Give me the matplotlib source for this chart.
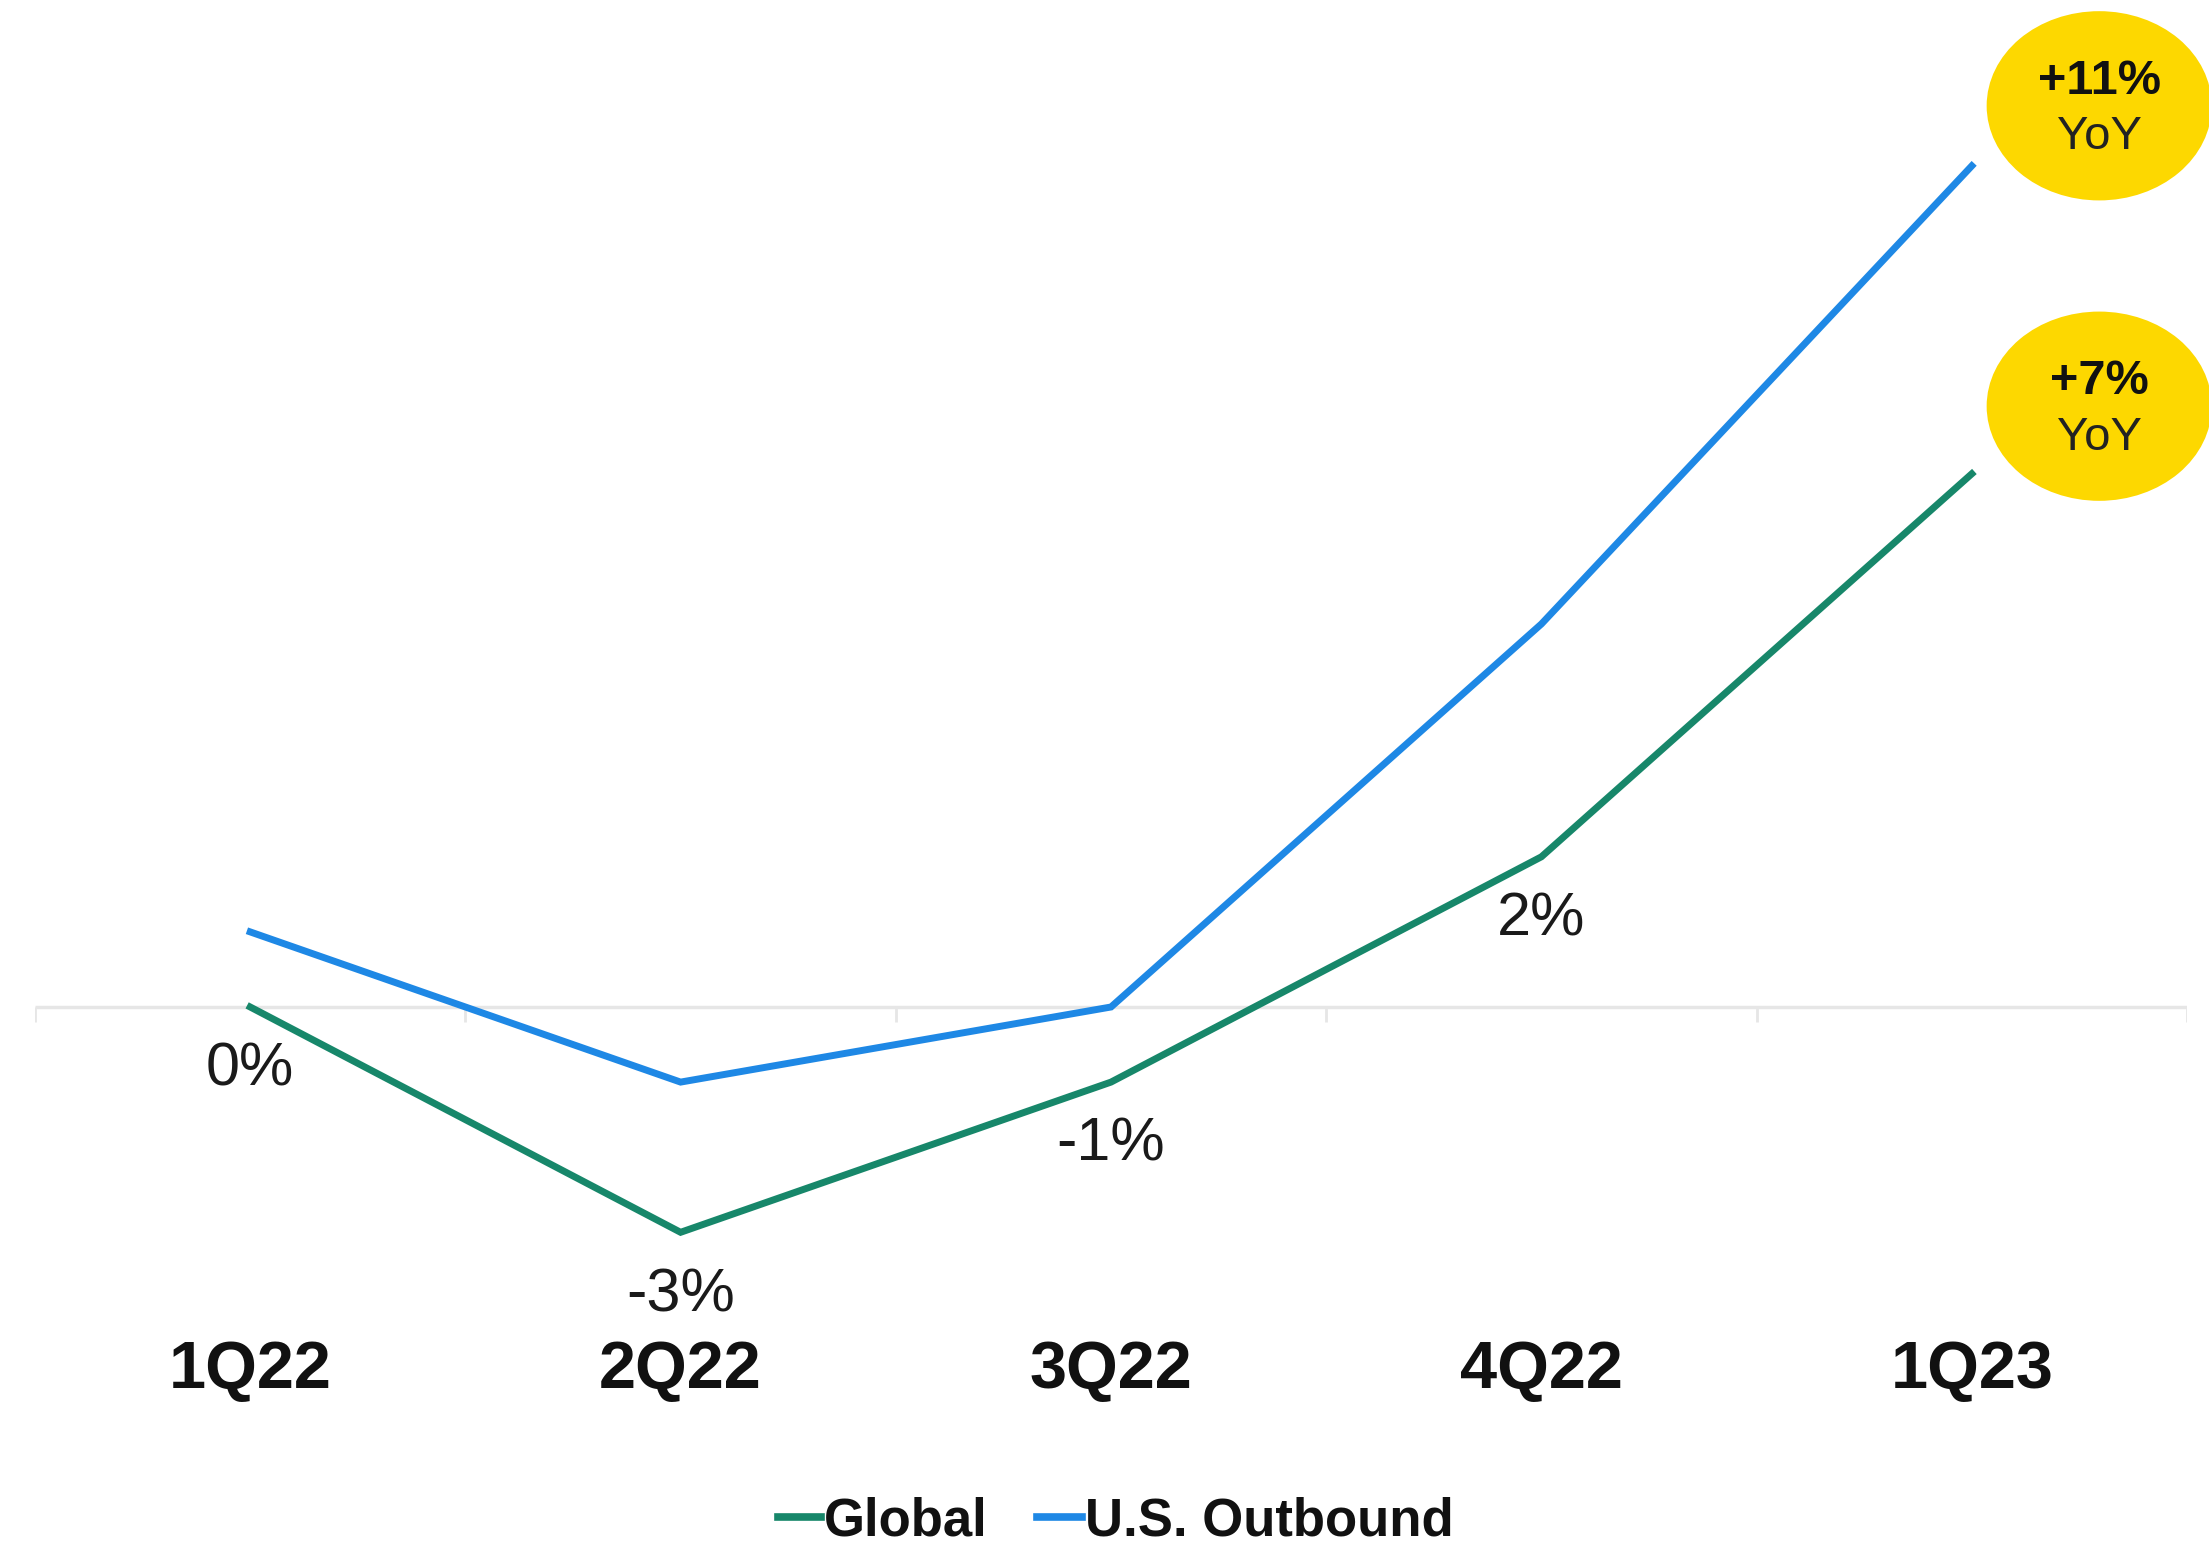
import matplotlib
matplotlib.use("Agg")
import matplotlib.pyplot as plt
from matplotlib.patches import Ellipse
from matplotlib.lines import Line2D

quarters = ["1Q22", "2Q22", "3Q22", "4Q22", "1Q23"]
global_vals = [0.0, -3.0, -1.0, 2.0, 7.1]
us_vals = [1.0, -1.0, 0.0, 5.1, 11.2]
global_labels = ["0%", "-3%", "-1%", "2%"]
yoy_badges = ["+11%", "+7%"]

GREEN = "#17876A"
BLUE = "#1E88E5"
YELLOW = "#FDD800"
NARROW = ["Liberation Sans Narrow", "Liberation Sans", "DejaVu Sans"]
SANS = ["Liberation Sans", "DejaVu Sans"]

W, H = 2209, 1543
fig = plt.figure(figsize=(W / 100, H / 100), dpi=100)
zero_px = 1007
px_per_pct = 75.1
ax = fig.add_axes([35 / W, 0, 2152 / W, 1])
ax.set_xlim(-0.5, 4.5)
ax.set_ylim(-(H - zero_px) / px_per_pct, zero_px / px_per_pct)
ax.axis("off")

x = list(range(len(quarters)))

# zero line with little ticks between quarters
ax.plot([-0.5, 4.5], [0, 0], color="#E6E6E6", lw=2.5, solid_capstyle="butt", zorder=1)
ax.vlines([i - 0.5 for i in range(len(quarters) + 1)], -0.2, 0, color="#E6E6E6", lw=2, zorder=1)

ax.plot(x, global_vals, color=GREEN, lw=5, zorder=3, solid_joinstyle="miter")
ax.plot(x, us_vals, color=BLUE, lw=5, zorder=3, solid_joinstyle="miter")

for i, lab in enumerate(global_labels):
    ax.text(i, global_vals[i] - 1.05, lab, ha="center", va="baseline",
            fontsize=44, family=NARROW, color="#1a1a1a")

for i, q in enumerate(quarters):
    ax.text(i, -5.07, q, ha="center", va="baseline", fontsize=48,
            fontweight="bold", family=SANS, color="#111111")

# YoY badges
badge_y = [12.0, 8.0]
for by, txt in zip(badge_y, yoy_badges):
    e = Ellipse((4.296, by), 0.523, 2.52, facecolor=YELLOW, edgecolor="none",
                clip_on=False, zorder=4)
    ax.add_patch(e)
    ax.text(4.296, by + 0.16, txt, ha="center", va="baseline", fontsize=35,
            fontweight="bold", family=NARROW, color="#111111", zorder=5)
    ax.text(4.296, by - 0.58, "YoY", ha="center", va="baseline", fontsize=34,
            family=SANS, color="#222222", zorder=5)

# legend drawn by hand
fig.add_artist(Line2D([778 / W, 821 / W], [1 - 1517 / H] * 2, color=GREEN, lw=5.5))
fig.text(824 / W, 1 - 1536 / H, "Global", fontsize=38, fontweight="bold",
         family=SANS, va="baseline", ha="left", color="#111111")
fig.add_artist(Line2D([1037 / W, 1082 / W], [1 - 1517 / H] * 2, color=BLUE, lw=5.5))
fig.text(1085 / W, 1 - 1536 / H, "U.S. Outbound", fontsize=38, fontweight="bold",
         family=SANS, va="baseline", ha="left", color="#111111")

fig.savefig("out.png", dpi=100, facecolor="white")
